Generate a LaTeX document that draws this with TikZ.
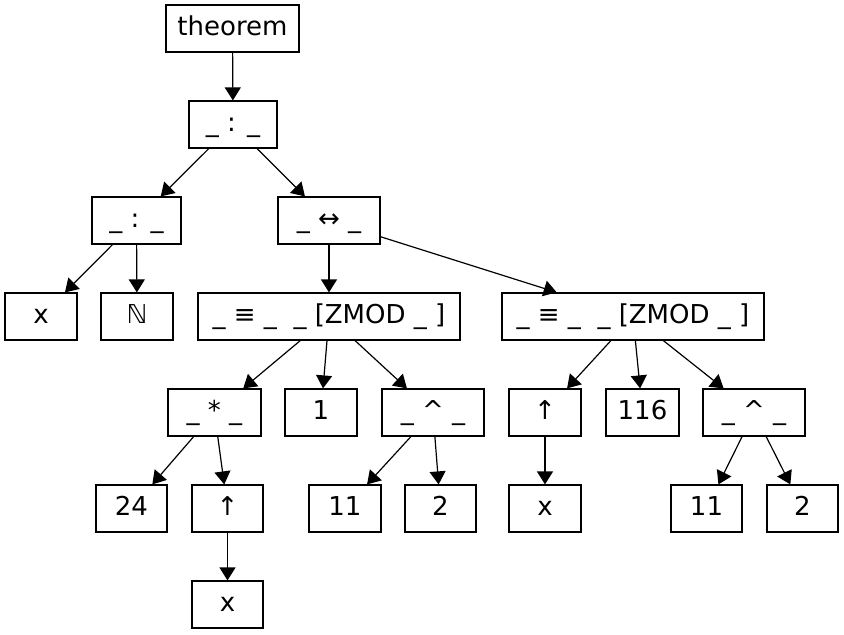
\documentclass[tikz,border=0pt]{standalone}
\usepackage{fontspec}
\setmainfont{DejaVu Sans}
\usetikzlibrary{arrows.meta}
\begin{document}
\begin{tikzpicture}[x=1pt,y=1pt,
  box/.style={draw, line width=1.2pt, minimum height=47pt, inner sep=0pt,
    text height=19.5pt, text depth=5.5pt, font=\fontsize{26}{30}\selectfont},
  edge/.style={line width=1.2pt, -{Triangle[length=13pt,width=16pt]}}]
\useasboundingbox (0,0) rectangle (844,-635);
% level 0
\node[box, minimum width=133pt] (thm) at (232.5,-28.5) {theorem};
% level 1
\node[box, minimum width=88pt] (c1) at (233,-124.5) {\_ : \_};
% level 2
\node[box, minimum width=89pt] (c2) at (136.5,-220.5) {\_ : \_};
\node[box, minimum width=102pt] (iff) at (329,-220.5) {\_ ↔ \_};
% level 3
\node[box, minimum width=72pt] (x1) at (41,-316.5) {x};
\node[box, minimum width=72pt] (nat) at (137,-316.5) {ℕ};
\node[box, minimum width=262pt] (eq1) at (329,-316.5) {\_ ≡ \_\ \ \_\ [ZMOD \_ ]};
\node[box, minimum width=262pt] (eq2) at (633,-316.5) {\_ ≡ \_\ \ \_\ [ZMOD \_ ]};
% level 4
\node[box, minimum width=93pt] (mul) at (214.5,-412.5) {\_ * \_};
\node[box, minimum width=72pt] (one) at (321,-412.5) {1};
\node[box, minimum width=102pt] (pow1) at (433,-412.5) {\_ \textasciicircum{} \_};
\node[box, minimum width=72pt] (up2) at (545,-412.5) {↑};
\node[box, minimum width=73pt] (n116) at (642.5,-412.5) {116};
\node[box, minimum width=102pt] (pow2) at (754,-412.5) {\_ \textasciicircum{} \_};
% level 5
\node[box, minimum width=71pt] (n24) at (131.5,-508.5) {24};
\node[box, minimum width=71pt] (up1) at (227.5,-508.5) {↑};
\node[box, minimum width=72pt] (n11a) at (345,-508.5) {11};
\node[box, minimum width=71pt] (n2a) at (440.5,-508.5) {2};
\node[box, minimum width=72pt] (x2) at (545,-508.5) {x};
\node[box, minimum width=71pt] (n11b) at (706.5,-508.5) {11};
\node[box, minimum width=71pt] (n2b) at (802.5,-508.5) {2};
% level 6
\node[box, minimum width=71pt] (x3) at (227.5,-604.5) {x};
% edges
\draw[edge] (thm) -- (c1);
\draw[edge] (c1) -- (c2);
\draw[edge] (c1) -- (iff);
\draw[edge] (c2) -- (x1);
\draw[edge] (c2) -- (nat);
\draw[edge] (iff) -- (eq1);
\draw[edge] (iff) -- (eq2);
\draw[edge] (eq1) -- (mul);
\draw[edge] (eq1) -- (one);
\draw[edge] (eq1) -- (pow1);
\draw[edge] (eq2) -- (up2);
\draw[edge] (eq2) -- (n116);
\draw[edge] (eq2) -- (pow2);
\draw[edge] (mul) -- (n24);
\draw[edge] (mul) -- (up1);
\draw[edge] (up1) -- (x3);
\draw[edge] (pow1) -- (n11a);
\draw[edge] (pow1) -- (n2a);
\draw[edge] (up2) -- (x2);
\draw[edge] (pow2) -- (n11b);
\draw[edge] (pow2) -- (n2b);
\end{tikzpicture}
\end{document}
